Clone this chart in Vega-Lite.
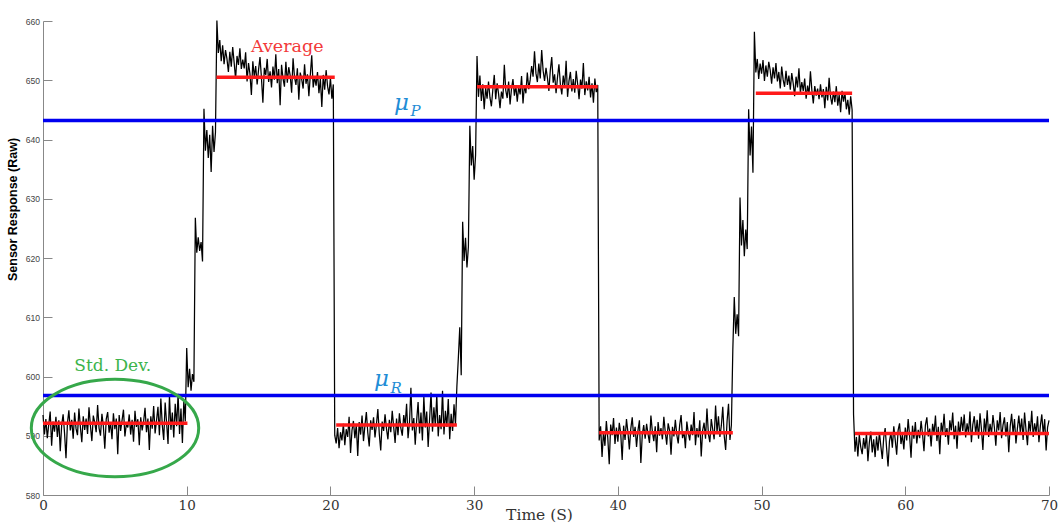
{
"$schema":"https://vega.github.io/schema/vega-lite/v6.json",
"width":1006,"height":474,
"autosize":{"type":"none"},
"padding":{"left":43,"top":21,"right":9,"bottom":28},
"background":"white",
"config":{"view":{"stroke":null}},
"layer":[
{"data":{"values":[
{"t":0.0,"v":593.5},{"t":0.1,"v":590.2},{"t":0.2,"v":592.8},{"t":0.3,"v":589.6},{"t":0.4,"v":591.9},{"t":0.5,"v":594.1},{"t":0.6,"v":588.3},{"t":0.7,"v":592.4},{"t":0.8,"v":590.7},{"t":0.9,"v":593.2},
{"t":1.0,"v":589.8},{"t":1.1,"v":592.6},{"t":1.2,"v":587.4},{"t":1.3,"v":591.8},{"t":1.4,"v":593.6},{"t":1.5,"v":590.4},{"t":1.6,"v":586.2},{"t":1.7,"v":592.1},{"t":1.8,"v":594.3},{"t":1.9,"v":590.9},
{"t":2.0,"v":592.7},{"t":2.1,"v":589.5},{"t":2.2,"v":593.9},{"t":2.3,"v":591.2},{"t":2.4,"v":590.1},{"t":2.5,"v":594.6},{"t":2.6,"v":591.5},{"t":2.7,"v":588.9},{"t":2.8,"v":593.3},{"t":2.9,"v":591.0},
{"t":3.0,"v":592.9},{"t":3.1,"v":590.3},{"t":3.2,"v":594.8},{"t":3.3,"v":591.7},{"t":3.4,"v":589.1},{"t":3.5,"v":593.4},{"t":3.6,"v":592.2},{"t":3.7,"v":590.6},{"t":3.8,"v":595.2},{"t":3.9,"v":591.3},
{"t":4.0,"v":590.0},{"t":4.1,"v":593.7},{"t":4.2,"v":591.6},{"t":4.3,"v":587.8},{"t":4.4,"v":592.8},{"t":4.5,"v":594.0},{"t":4.6,"v":590.5},{"t":4.7,"v":592.3},{"t":4.8,"v":589.4},{"t":4.9,"v":593.8},
{"t":5.0,"v":591.1},{"t":5.1,"v":592.9},{"t":5.2,"v":586.9},{"t":5.3,"v":593.5},{"t":5.4,"v":590.8},{"t":5.5,"v":592.6},{"t":5.6,"v":594.4},{"t":5.7,"v":589.9},{"t":5.8,"v":592.0},{"t":5.9,"v":591.4},
{"t":6.0,"v":593.6},{"t":6.1,"v":590.2},{"t":6.2,"v":592.7},{"t":6.3,"v":589.0},{"t":6.4,"v":594.2},{"t":6.5,"v":591.5},{"t":6.6,"v":592.8},{"t":6.7,"v":588.4},{"t":6.8,"v":593.1},{"t":6.9,"v":590.9},
{"t":7.0,"v":592.4},{"t":7.1,"v":594.7},{"t":7.2,"v":590.6},{"t":7.3,"v":592.9},{"t":7.4,"v":587.6},{"t":7.5,"v":593.3},{"t":7.6,"v":591.2},{"t":7.7,"v":595.0},{"t":7.8,"v":590.4},{"t":7.9,"v":592.6},
{"t":8.0,"v":594.9},{"t":8.1,"v":590.1},{"t":8.2,"v":596.3},{"t":8.3,"v":591.8},{"t":8.4,"v":589.3},{"t":8.5,"v":595.6},{"t":8.6,"v":592.2},{"t":8.7,"v":588.6},{"t":8.8,"v":596.8},{"t":8.9,"v":591.0},
{"t":9.0,"v":593.9},{"t":9.1,"v":589.7},{"t":9.2,"v":595.4},{"t":9.3,"v":591.6},{"t":9.4,"v":597.1},{"t":9.5,"v":590.3},{"t":9.6,"v":594.6},{"t":9.7,"v":588.8},{"t":9.8,"v":595.9},{"t":9.9,"v":592.4},
{"t":10.0,"v":604.8},{"t":10.1,"v":598.2},{"t":10.2,"v":601.3},{"t":10.3,"v":597.6},{"t":10.4,"v":600.4},{"t":10.5,"v":599.1},{"t":10.6,"v":626.8},{"t":10.7,"v":620.9},{"t":10.8,"v":623.5},{"t":10.9,"v":621.2},
{"t":11.0,"v":622.7},{"t":11.1,"v":619.4},{"t":11.2,"v":645.2},{"t":11.3,"v":638.1},{"t":11.4,"v":641.6},{"t":11.5,"v":636.9},{"t":11.6,"v":640.8},{"t":11.7,"v":634.5},{"t":11.8,"v":642.3},{"t":11.9,"v":637.9},
{"t":12.0,"v":641.2},{"t":12.1,"v":660.1},{"t":12.2,"v":654.6},{"t":12.3,"v":656.8},{"t":12.4,"v":653.2},{"t":12.5,"v":655.9},{"t":12.6,"v":652.7},{"t":12.7,"v":655.1},{"t":12.8,"v":653.6},{"t":12.9,"v":651.4},
{"t":13.0,"v":654.8},{"t":13.1,"v":652.3},{"t":13.2,"v":655.6},{"t":13.3,"v":653.0},{"t":13.4,"v":650.2},{"t":13.5,"v":654.1},{"t":13.6,"v":652.6},{"t":13.7,"v":655.4},{"t":13.8,"v":651.9},{"t":13.9,"v":653.5},
{"t":14.0,"v":652.0},{"t":14.1,"v":654.7},{"t":14.2,"v":649.8},{"t":14.3,"v":652.9},{"t":14.4,"v":651.1},{"t":14.5,"v":647.5},{"t":14.6,"v":653.2},{"t":14.7,"v":650.6},{"t":14.8,"v":652.4},{"t":14.9,"v":649.3},
{"t":15.0,"v":651.8},{"t":15.1,"v":653.9},{"t":15.2,"v":650.4},{"t":15.3,"v":646.2},{"t":15.4,"v":652.1},{"t":15.5,"v":650.9},{"t":15.6,"v":653.6},{"t":15.7,"v":649.7},{"t":15.8,"v":651.5},{"t":15.9,"v":648.8},
{"t":16.0,"v":652.3},{"t":16.1,"v":650.1},{"t":16.2,"v":654.4},{"t":16.3,"v":649.5},{"t":16.4,"v":651.9},{"t":16.5,"v":645.8},{"t":16.6,"v":652.6},{"t":16.7,"v":650.3},{"t":16.8,"v":648.9},{"t":16.9,"v":653.1},
{"t":17.0,"v":649.6},{"t":17.1,"v":652.2},{"t":17.2,"v":650.8},{"t":17.3,"v":647.9},{"t":17.4,"v":653.7},{"t":17.5,"v":650.5},{"t":17.6,"v":649.2},{"t":17.7,"v":652.0},{"t":17.8,"v":646.7},{"t":17.9,"v":651.3},
{"t":18.0,"v":650.2},{"t":18.1,"v":648.6},{"t":18.2,"v":652.7},{"t":18.3,"v":649.4},{"t":18.4,"v":651.0},{"t":18.5,"v":647.3},{"t":18.6,"v":650.9},{"t":18.7,"v":654.2},{"t":18.8,"v":648.8},{"t":18.9,"v":650.6},
{"t":19.0,"v":649.1},{"t":19.1,"v":651.4},{"t":19.2,"v":647.8},{"t":19.3,"v":650.3},{"t":19.4,"v":645.5},{"t":19.5,"v":650.9},{"t":19.6,"v":648.4},{"t":19.7,"v":651.7},{"t":19.8,"v":649.0},{"t":19.9,"v":647.6},
{"t":20.0,"v":650.4},{"t":20.1,"v":646.9},{"t":20.2,"v":649.3},{"t":20.3,"v":590.1},{"t":20.4,"v":588.7},{"t":20.5,"v":591.3},{"t":20.6,"v":587.9},{"t":20.7,"v":590.6},{"t":20.8,"v":589.2},{"t":20.9,"v":592.0},
{"t":21.0,"v":588.4},{"t":21.1,"v":591.1},{"t":21.2,"v":589.8},{"t":21.3,"v":593.2},{"t":21.4,"v":587.1},{"t":21.5,"v":590.9},{"t":21.6,"v":592.5},{"t":21.7,"v":589.6},{"t":21.8,"v":591.8},{"t":21.9,"v":586.6},
{"t":22.0,"v":592.3},{"t":22.1,"v":590.2},{"t":22.2,"v":593.4},{"t":22.3,"v":589.1},{"t":22.4,"v":591.7},{"t":22.5,"v":594.0},{"t":22.6,"v":590.5},{"t":22.7,"v":588.2},{"t":22.8,"v":592.6},{"t":22.9,"v":591.0},
{"t":23.0,"v":593.1},{"t":23.1,"v":589.7},{"t":23.2,"v":591.9},{"t":23.3,"v":594.5},{"t":23.4,"v":590.3},{"t":23.5,"v":587.5},{"t":23.6,"v":592.4},{"t":23.7,"v":590.8},{"t":23.8,"v":593.6},{"t":23.9,"v":591.2},
{"t":24.0,"v":589.4},{"t":24.1,"v":592.7},{"t":24.2,"v":590.6},{"t":24.3,"v":594.2},{"t":24.4,"v":591.5},{"t":24.5,"v":588.8},{"t":24.6,"v":592.9},{"t":24.7,"v":590.1},{"t":24.8,"v":593.8},{"t":24.9,"v":591.3},
{"t":25.0,"v":590.0},{"t":25.1,"v":593.5},{"t":25.2,"v":591.8},{"t":25.3,"v":595.4},{"t":25.4,"v":589.6},{"t":25.5,"v":592.2},{"t":25.6,"v":598.1},{"t":25.7,"v":590.9},{"t":25.8,"v":593.0},{"t":25.9,"v":588.5},
{"t":26.0,"v":592.6},{"t":26.1,"v":595.7},{"t":26.2,"v":590.4},{"t":26.3,"v":593.9},{"t":26.4,"v":589.2},{"t":26.5,"v":596.6},{"t":26.6,"v":591.4},{"t":26.7,"v":594.1},{"t":26.8,"v":588.1},{"t":26.9,"v":592.8},
{"t":27.0,"v":597.3},{"t":27.1,"v":590.7},{"t":27.2,"v":594.8},{"t":27.3,"v":591.6},{"t":27.4,"v":596.9},{"t":27.5,"v":589.9},{"t":27.6,"v":593.5},{"t":27.7,"v":591.1},{"t":27.8,"v":597.6},{"t":27.9,"v":590.2},
{"t":28.0,"v":594.2},{"t":28.1,"v":591.5},{"t":28.2,"v":596.2},{"t":28.3,"v":589.4},{"t":28.4,"v":593.7},{"t":28.5,"v":590.8},{"t":28.6,"v":595.3},{"t":28.7,"v":591.9},{"t":28.8,"v":598.4},{"t":28.9,"v":603.1},
{"t":29.0,"v":608.3},{"t":29.1,"v":600.2},{"t":29.2,"v":626.1},{"t":29.3,"v":619.5},{"t":29.4,"v":623.4},{"t":29.5,"v":618.4},{"t":29.6,"v":621.9},{"t":29.7,"v":642.3},{"t":29.8,"v":635.6},{"t":29.9,"v":638.9},
{"t":30.0,"v":633.2},{"t":30.1,"v":637.4},{"t":30.2,"v":654.1},{"t":30.3,"v":647.2},{"t":30.4,"v":650.8},{"t":30.5,"v":646.5},{"t":30.6,"v":649.3},{"t":30.7,"v":645.1},{"t":30.8,"v":648.7},{"t":30.9,"v":646.9},
{"t":31.0,"v":649.8},{"t":31.1,"v":647.1},{"t":31.2,"v":645.6},{"t":31.3,"v":648.4},{"t":31.4,"v":650.9},{"t":31.5,"v":646.8},{"t":31.6,"v":649.5},{"t":31.7,"v":647.7},{"t":31.8,"v":645.3},{"t":31.9,"v":648.1},
{"t":32.0,"v":646.9},{"t":32.1,"v":652.6},{"t":32.2,"v":648.3},{"t":32.3,"v":647.0},{"t":32.4,"v":649.8},{"t":32.5,"v":645.9},{"t":32.6,"v":648.6},{"t":32.7,"v":650.2},{"t":32.8,"v":647.4},{"t":32.9,"v":649.1},
{"t":33.0,"v":646.4},{"t":33.1,"v":648.9},{"t":33.2,"v":647.6},{"t":33.3,"v":650.7},{"t":33.4,"v":646.1},{"t":33.5,"v":649.2},{"t":33.6,"v":647.8},{"t":33.7,"v":651.3},{"t":33.8,"v":648.5},{"t":33.9,"v":650.1},
{"t":34.0,"v":652.4},{"t":34.1,"v":650.6},{"t":34.2,"v":654.9},{"t":34.3,"v":651.2},{"t":34.4,"v":649.7},{"t":34.5,"v":652.8},{"t":34.6,"v":650.3},{"t":34.7,"v":655.1},{"t":34.8,"v":651.6},{"t":34.9,"v":649.9},
{"t":35.0,"v":652.1},{"t":35.1,"v":650.4},{"t":35.2,"v":648.2},{"t":35.3,"v":651.7},{"t":35.4,"v":653.9},{"t":35.5,"v":649.6},{"t":35.6,"v":651.0},{"t":35.7,"v":647.8},{"t":35.8,"v":650.5},{"t":35.9,"v":652.7},
{"t":36.0,"v":649.3},{"t":36.1,"v":647.6},{"t":36.2,"v":650.8},{"t":36.3,"v":648.9},{"t":36.4,"v":653.3},{"t":36.5,"v":647.2},{"t":36.6,"v":649.9},{"t":36.7,"v":651.4},{"t":36.8,"v":648.1},{"t":36.9,"v":650.2},
{"t":37.0,"v":647.9},{"t":37.1,"v":651.6},{"t":37.2,"v":649.4},{"t":37.3,"v":646.8},{"t":37.4,"v":650.1},{"t":37.5,"v":648.6},{"t":37.6,"v":652.9},{"t":37.7,"v":647.5},{"t":37.8,"v":649.8},{"t":37.9,"v":648.3},
{"t":38.0,"v":650.6},{"t":38.1,"v":647.1},{"t":38.2,"v":649.5},{"t":38.3,"v":646.2},{"t":38.4,"v":650.3},{"t":38.5,"v":648.0},{"t":38.6,"v":649.2},{"t":38.7,"v":589.2},{"t":38.8,"v":591.6},{"t":38.9,"v":586.4},
{"t":39.0,"v":590.7},{"t":39.1,"v":588.3},{"t":39.2,"v":592.5},{"t":39.3,"v":589.6},{"t":39.4,"v":585.2},{"t":39.5,"v":591.9},{"t":39.6,"v":590.1},{"t":39.7,"v":593.0},{"t":39.8,"v":588.6},{"t":39.9,"v":591.4},
{"t":40.0,"v":589.0},{"t":40.1,"v":592.2},{"t":40.2,"v":590.4},{"t":40.3,"v":585.9},{"t":40.4,"v":591.7},{"t":40.5,"v":589.3},{"t":40.6,"v":592.8},{"t":40.7,"v":590.6},{"t":40.8,"v":587.7},{"t":40.9,"v":591.2},
{"t":41.0,"v":593.1},{"t":41.1,"v":589.8},{"t":41.2,"v":591.5},{"t":41.3,"v":588.1},{"t":41.4,"v":590.9},{"t":41.5,"v":592.6},{"t":41.6,"v":585.4},{"t":41.7,"v":590.2},{"t":41.8,"v":591.8},{"t":41.9,"v":589.5},
{"t":42.0,"v":592.0},{"t":42.1,"v":590.3},{"t":42.2,"v":588.8},{"t":42.3,"v":593.4},{"t":42.4,"v":590.7},{"t":42.5,"v":589.1},{"t":42.6,"v":591.6},{"t":42.7,"v":587.2},{"t":42.8,"v":592.3},{"t":42.9,"v":590.0},
{"t":43.0,"v":591.3},{"t":43.1,"v":589.4},{"t":43.2,"v":593.2},{"t":43.3,"v":590.6},{"t":43.4,"v":588.5},{"t":43.5,"v":592.1},{"t":43.6,"v":590.9},{"t":43.7,"v":586.8},{"t":43.8,"v":591.5},{"t":43.9,"v":589.9},
{"t":44.0,"v":592.7},{"t":44.1,"v":590.2},{"t":44.2,"v":588.7},{"t":44.3,"v":591.8},{"t":44.4,"v":593.5},{"t":44.5,"v":589.6},{"t":44.6,"v":590.8},{"t":44.7,"v":587.9},{"t":44.8,"v":592.4},{"t":44.9,"v":590.5},
{"t":45.0,"v":589.2},{"t":45.1,"v":591.9},{"t":45.2,"v":590.1},{"t":45.3,"v":594.0},{"t":45.4,"v":588.4},{"t":45.5,"v":591.3},{"t":45.6,"v":589.7},{"t":45.7,"v":592.6},{"t":45.8,"v":586.5},{"t":45.9,"v":590.9},
{"t":46.0,"v":592.2},{"t":46.1,"v":589.5},{"t":46.2,"v":594.6},{"t":46.3,"v":590.3},{"t":46.4,"v":588.9},{"t":46.5,"v":592.8},{"t":46.6,"v":591.1},{"t":46.7,"v":589.4},{"t":46.8,"v":595.1},{"t":46.9,"v":590.6},
{"t":47.0,"v":593.3},{"t":47.1,"v":589.8},{"t":47.2,"v":591.7},{"t":47.3,"v":594.9},{"t":47.4,"v":590.0},{"t":47.5,"v":587.6},{"t":47.6,"v":592.5},{"t":47.7,"v":595.4},{"t":47.8,"v":589.3},{"t":47.9,"v":591.8},
{"t":48.0,"v":604.6},{"t":48.1,"v":613.4},{"t":48.2,"v":607.2},{"t":48.3,"v":610.5},{"t":48.4,"v":606.8},{"t":48.5,"v":630.2},{"t":48.6,"v":622.1},{"t":48.7,"v":626.4},{"t":48.8,"v":620.3},{"t":48.9,"v":624.8},
{"t":49.0,"v":621.5},{"t":49.1,"v":645.1},{"t":49.2,"v":637.3},{"t":49.3,"v":642.2},{"t":49.4,"v":634.4},{"t":49.5,"v":658.2},{"t":49.6,"v":651.3},{"t":49.7,"v":653.6},{"t":49.8,"v":650.2},{"t":49.9,"v":652.8},
{"t":50.0,"v":651.1},{"t":50.1,"v":653.4},{"t":50.2,"v":649.9},{"t":50.3,"v":652.5},{"t":50.4,"v":650.6},{"t":50.5,"v":653.1},{"t":50.6,"v":651.7},{"t":50.7,"v":649.4},{"t":50.8,"v":652.2},{"t":50.9,"v":650.3},
{"t":51.0,"v":652.9},{"t":51.1,"v":649.8},{"t":51.2,"v":651.4},{"t":51.3,"v":648.6},{"t":51.4,"v":652.3},{"t":51.5,"v":650.1},{"t":51.6,"v":648.9},{"t":51.7,"v":651.6},{"t":51.8,"v":649.2},{"t":51.9,"v":650.8},
{"t":52.0,"v":648.4},{"t":52.1,"v":651.2},{"t":52.2,"v":649.5},{"t":52.3,"v":647.3},{"t":52.4,"v":650.6},{"t":52.5,"v":648.8},{"t":52.6,"v":652.0},{"t":52.7,"v":647.9},{"t":52.8,"v":649.7},{"t":52.9,"v":648.2},
{"t":53.0,"v":650.3},{"t":53.1,"v":646.9},{"t":53.2,"v":649.1},{"t":53.3,"v":647.6},{"t":53.4,"v":651.5},{"t":53.5,"v":648.3},{"t":53.6,"v":646.1},{"t":53.7,"v":649.0},{"t":53.8,"v":647.4},{"t":53.9,"v":648.6},
{"t":54.0,"v":646.8},{"t":54.1,"v":649.3},{"t":54.2,"v":647.1},{"t":54.3,"v":648.5},{"t":54.4,"v":645.3},{"t":54.5,"v":648.9},{"t":54.6,"v":646.6},{"t":54.7,"v":650.4},{"t":54.8,"v":647.2},{"t":54.9,"v":645.9},
{"t":55.0,"v":648.1},{"t":55.1,"v":646.3},{"t":55.2,"v":649.0},{"t":55.3,"v":645.7},{"t":55.4,"v":647.6},{"t":55.5,"v":644.6},{"t":55.6,"v":648.2},{"t":55.7,"v":646.4},{"t":55.8,"v":647.9},{"t":55.9,"v":645.1},
{"t":56.0,"v":646.7},{"t":56.1,"v":644.2},{"t":56.2,"v":647.3},{"t":56.3,"v":645.0},{"t":56.4,"v":593.6},{"t":56.5,"v":587.3},{"t":56.6,"v":589.8},{"t":56.7,"v":586.5},{"t":56.8,"v":590.2},{"t":56.9,"v":588.1},
{"t":57.0,"v":586.9},{"t":57.1,"v":589.6},{"t":57.2,"v":587.8},{"t":57.3,"v":590.4},{"t":57.4,"v":585.7},{"t":57.5,"v":588.9},{"t":57.6,"v":590.7},{"t":57.7,"v":587.2},{"t":57.8,"v":589.4},{"t":57.9,"v":586.4},
{"t":58.0,"v":589.9},{"t":58.1,"v":587.5},{"t":58.2,"v":590.6},{"t":58.3,"v":588.2},{"t":58.4,"v":586.1},{"t":58.5,"v":589.7},{"t":58.6,"v":591.3},{"t":58.7,"v":587.9},{"t":58.8,"v":584.8},{"t":58.9,"v":589.1},
{"t":59.0,"v":590.5},{"t":59.1,"v":588.0},{"t":59.2,"v":591.6},{"t":59.3,"v":589.3},{"t":59.4,"v":586.8},{"t":59.5,"v":590.9},{"t":59.6,"v":592.1},{"t":59.7,"v":588.6},{"t":59.8,"v":590.2},{"t":59.9,"v":587.7},
{"t":60.0,"v":591.4},{"t":60.1,"v":589.2},{"t":60.2,"v":592.8},{"t":60.3,"v":590.0},{"t":60.4,"v":586.3},{"t":60.5,"v":591.7},{"t":60.6,"v":589.5},{"t":60.7,"v":592.3},{"t":60.8,"v":588.7},{"t":60.9,"v":591.0},
{"t":61.0,"v":589.6},{"t":61.1,"v":592.5},{"t":61.2,"v":590.3},{"t":61.3,"v":587.4},{"t":61.4,"v":591.8},{"t":61.5,"v":593.1},{"t":61.6,"v":589.9},{"t":61.7,"v":591.2},{"t":61.8,"v":588.2},{"t":61.9,"v":592.0},
{"t":62.0,"v":590.4},{"t":62.1,"v":593.4},{"t":62.2,"v":589.1},{"t":62.3,"v":591.5},{"t":62.4,"v":586.9},{"t":62.5,"v":592.2},{"t":62.6,"v":590.6},{"t":62.7,"v":593.7},{"t":62.8,"v":589.8},{"t":62.9,"v":591.3},
{"t":63.0,"v":588.5},{"t":63.1,"v":592.6},{"t":63.2,"v":590.9},{"t":63.3,"v":593.9},{"t":63.4,"v":589.4},{"t":63.5,"v":591.7},{"t":63.6,"v":587.8},{"t":63.7,"v":592.4},{"t":63.8,"v":590.1},{"t":63.9,"v":593.2},
{"t":64.0,"v":590.8},{"t":64.1,"v":593.6},{"t":64.2,"v":589.7},{"t":64.3,"v":592.1},{"t":64.4,"v":590.4},{"t":64.5,"v":594.1},{"t":64.6,"v":588.9},{"t":64.7,"v":591.9},{"t":64.8,"v":593.3},{"t":64.9,"v":590.2},
{"t":65.0,"v":592.7},{"t":65.1,"v":589.5},{"t":65.2,"v":593.8},{"t":65.3,"v":591.1},{"t":65.4,"v":587.6},{"t":65.5,"v":592.9},{"t":65.6,"v":590.6},{"t":65.7,"v":594.3},{"t":65.8,"v":589.8},{"t":65.9,"v":592.0},
{"t":66.0,"v":590.3},{"t":66.1,"v":593.5},{"t":66.2,"v":591.4},{"t":66.3,"v":588.3},{"t":66.4,"v":592.6},{"t":66.5,"v":590.9},{"t":66.6,"v":594.0},{"t":66.7,"v":589.6},{"t":66.8,"v":591.8},{"t":66.9,"v":593.1},
{"t":67.0,"v":589.9},{"t":67.1,"v":592.3},{"t":67.2,"v":587.2},{"t":67.3,"v":591.6},{"t":67.4,"v":593.7},{"t":67.5,"v":590.4},{"t":67.6,"v":592.8},{"t":67.7,"v":588.7},{"t":67.8,"v":591.2},{"t":67.9,"v":593.4},
{"t":68.0,"v":590.6},{"t":68.1,"v":592.9},{"t":68.2,"v":589.3},{"t":68.3,"v":593.9},{"t":68.4,"v":591.0},{"t":68.5,"v":588.4},{"t":68.6,"v":592.5},{"t":68.7,"v":590.7},{"t":68.8,"v":594.2},{"t":68.9,"v":589.8},
{"t":69.0,"v":592.1},{"t":69.1,"v":590.5},{"t":69.2,"v":593.3},{"t":69.3,"v":588.9},{"t":69.4,"v":591.7},{"t":69.5,"v":593.6},{"t":69.6,"v":590.2},{"t":69.7,"v":592.8},{"t":69.8,"v":587.5},{"t":69.9,"v":591.4},
{"t":70.0,"v":592.6}
]},
"mark":{"type":"line","color":"#000000","strokeWidth":1.25},
"encoding":{
"x":{"field":"t","type":"quantitative","scale":{"domain":[0,70],"nice":false,"zero":false},
"axis":{"title":"Time (S)","values":[0,10,20,30,40,50,60,70],"grid":false,"tickSize":-9,"tickColor":"#888888","domainColor":"#888888","labelPadding":12,"labelFlush":false,"labelOverlap":false,"labelFont":"DejaVu Serif","labelFontSize":13.5,"labelColor":"#333333","titleFont":"DejaVu Serif","titleFontSize":15.5,"titleFontWeight":"normal","titleColor":"#333333","titleX":496,"titleY":24,"titleBaseline":"alphabetic"}},
"y":{"field":"v","type":"quantitative","scale":{"domain":[580,660],"nice":false,"zero":false},
"axis":{"title":"Sensor Response (Raw)","values":[580,590,600,610,620,630,640,650,660],"grid":false,"tickSize":-9,"tickColor":"#888888","domainColor":"#888888","labelPadding":12.5,"labelFlush":false,"labelOverlap":false,"labelFont":"Liberation Sans","labelFontSize":8.6,"labelColor":"#444444","titleFont":"Liberation Sans","titleFontSize":12.5,"titleFontWeight":"bold","titleColor":"#000000","titleX":-31,"titleY":188,"titleBaseline":"middle"}}
}},
{"data":{"values":[
{"x":0,"x2":10.05,"v":592.1},{"x":12.07,"x2":20.3,"v":650.5},{"x":20.4,"x2":28.8,"v":591.8},{"x":30.2,"x2":38.6,"v":648.9},{"x":38.7,"x2":48.0,"v":590.5},{"x":49.6,"x2":56.3,"v":647.8},{"x":56.5,"x2":70,"v":590.4}
]},
"mark":{"type":"rule","color":"#ff1a1a","strokeWidth":3.5},
"encoding":{"x":{"field":"x","type":"quantitative"},"x2":{"field":"x2"},"y":{"field":"v","type":"quantitative"}}},
{"data":{"values":[{"v":643.2},{"v":596.8}]},
"mark":{"type":"rule","color":"#0000f0","strokeWidth":3.5},
"encoding":{"y":{"field":"v","type":"quantitative"}}},
{"data":{"values":[{"t":24.94,"v":645.0,"s":"μ"},{"t":23.55,"v":598.45,"s":"μ"}]},
"mark":{"type":"text","font":"DejaVu Serif","fontStyle":"italic","fontSize":23,"color":"#1f8dd6","align":"center","baseline":"alphabetic"},
"encoding":{"x":{"field":"t","type":"quantitative"},"y":{"field":"v","type":"quantitative"},"text":{"field":"s"}}},
{"data":{"values":[{"t":25.57,"v":644.0,"s":"P"},{"t":24.18,"v":597.2,"s":"R"}]},
"mark":{"type":"text","font":"DejaVu Serif","fontStyle":"italic","fontSize":15,"color":"#1f8dd6","align":"left","baseline":"alphabetic"},
"encoding":{"x":{"field":"t","type":"quantitative"},"y":{"field":"v","type":"quantitative"},"text":{"field":"s"}}},
{"data":{"values":[{"t":17.0,"v":654.8,"s":"Average"}]},
"mark":{"type":"text","font":"DejaVu Serif","fontSize":17.5,"color":"#f23a3a","align":"center","baseline":"alphabetic"},
"encoding":{"x":{"field":"t","type":"quantitative"},"y":{"field":"v","type":"quantitative"},"text":{"field":"s"}}},
{"data":{"values":[{"t":4.85,"v":601.0,"s":"Std. Dev."}]},
"mark":{"type":"text","font":"DejaVu Serif","fontSize":17,"color":"#3cb44b","align":"center","baseline":"alphabetic"},
"encoding":{"x":{"field":"t","type":"quantitative"},"y":{"field":"v","type":"quantitative"},"text":{"field":"s"}}},
{"data":{"values":[{"t":5.01,"v":591.3}]},
"mark":{"type":"point","shape":"M -1 0 A 1 0.582 0 1 1 1 0 A 1 0.582 0 1 1 -1 0 Z","size":28023,"filled":false,"stroke":"#36a84a","strokeWidth":3,"opacity":1},
"encoding":{"x":{"field":"t","type":"quantitative"},"y":{"field":"v","type":"quantitative"}}}
]
}
